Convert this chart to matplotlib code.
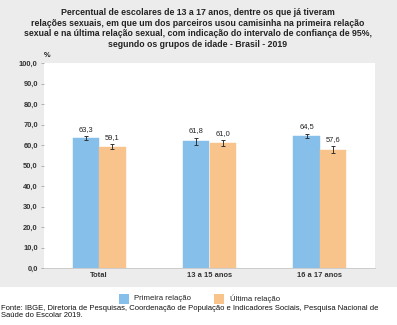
import matplotlib
matplotlib.use('Agg')
import matplotlib.pyplot as plt
import numpy as np

plt.rcParams['font.family'] = ['Liberation Sans', 'DejaVu Sans']

grupos = ['Total', '13 a 15 anos', '16 a 17 anos']
primeira = [63.3, 61.8, 64.5]
ultima = [59.1, 61.0, 57.6]
# meia amplitude do intervalo de confiança de 95%
ic_primeira = [1.0, 1.8, 1.1]
ic_ultima = [1.2, 1.6, 1.7]
series = ['Primeira relação', 'Última relação']
yticks = np.arange(0, 101, 10)

AZUL = '#86C0EA'
LARANJA = '#F9C38C'
FUNDO = '#ECECEC'

fig = plt.figure(figsize=(3.97, 3.25), dpi=100, facecolor='white')
# faixa cinza que contém título e gráfico
fig.patches.append(plt.Rectangle((0, 1 - 287 / 325), 1, 287 / 325,
                                 transform=fig.transFigure, facecolor=FUNDO,
                                 edgecolor='none', zorder=-1))
ax = fig.add_axes([44 / 397, 1 - 268 / 325, 331 / 397, 205 / 325])
ax.set_facecolor('white')

x = np.arange(len(grupos))
w = 0.24
ax.bar(x - w / 2, primeira, w, color=AZUL, edgecolor=AZUL, linewidth=0.3, zorder=2)
ax.bar(x + w / 2, ultima, w, color=LARANJA, edgecolor=LARANJA, linewidth=0.3, zorder=2)
ax.errorbar(x - w / 2, primeira, yerr=ic_primeira, fmt='none', ecolor='#333333',
            elinewidth=0.7, capsize=1.5, capthick=0.7, zorder=3)
ax.errorbar(x + w / 2, ultima, yerr=ic_ultima, fmt='none', ecolor='#333333',
            elinewidth=0.7, capsize=1.5, capthick=0.7, zorder=3)

for xs, vals, ics in [(x - w / 2, primeira, ic_primeira), (x + w / 2, ultima, ic_ultima)]:
    for xi, v, e in zip(xs, vals, ics):
        ax.text(xi, v + e + 1.5, f'{v:.1f}'.replace('.', ','), ha='center', va='bottom',
                fontsize=5.4, color='#222222')

ax.set_xlim(-0.5, 2.5)
ax.set_ylim(0, 100)
ax.set_yticks(yticks)
ax.set_yticklabels([f'{t:.1f}'.replace('.', ',') for t in yticks], fontsize=5.4,
                   fontweight='bold', color='#333333')
ax.set_xticks(x)
ax.set_xticklabels(grupos, fontsize=5.4, fontweight='bold', color='#333333')
ax.tick_params(axis='y', length=2.5, width=0.5, color='#999999', pad=2)
ax.tick_params(axis='x', length=0, pad=3)
for s in ['top', 'right', 'left']:
    ax.spines[s].set_visible(False)
ax.spines['bottom'].set_color('#C8C8C8')
ax.spines['bottom'].set_linewidth(0.6)

ax.text(0, 1.02, '%', transform=ax.transAxes, fontsize=5.4, fontweight='bold',
        ha='left', va='bottom', color='#222222')

titulo = ('Percentual de escolares de 13 a 17 anos, dentre os que já tiveram\n'
          'relações sexuais, em que um dos parceiros usou camisinha na primeira relação\n'
          'sexual e na última relação sexual, com indicação do intervalo de confiança de 95%,\n'
          'segundo os grupos de idade - Brasil - 2019')
fig.text(198 / 397, 1 - 8 / 325, titulo, ha='center', va='top', fontsize=6.3,
         fontweight='bold', color='#222222', linespacing=1.25)

# legenda
fig.patches.append(plt.Rectangle((119 / 397, 1 - 304 / 325), 10 / 397, 10 / 325,
                                 transform=fig.transFigure, facecolor=AZUL, edgecolor='none'))
fig.text(134 / 397, 1 - 299 / 325, series[0], fontsize=5.6, va='center', color='#222222')
fig.patches.append(plt.Rectangle((214 / 397, 1 - 304 / 325), 10 / 397, 10 / 325,
                                 transform=fig.transFigure, facecolor=LARANJA, edgecolor='none'))
fig.text(230 / 397, 1 - 299 / 325, series[1], fontsize=5.6, va='center', color='#222222')

fonte = ('Fonte: IBGE, Diretoria de Pesquisas, Coordenação de População e Indicadores Sociais, '
         'Pesquisa Nacional de\nSaúde do Escolar 2019.')
fig.text(1 / 397, 1 - 305 / 325, fonte, ha='left', va='top', fontsize=5.5,
         color='#111111', linespacing=1.05)

fig.savefig('out.png', dpi=100, facecolor='white')
